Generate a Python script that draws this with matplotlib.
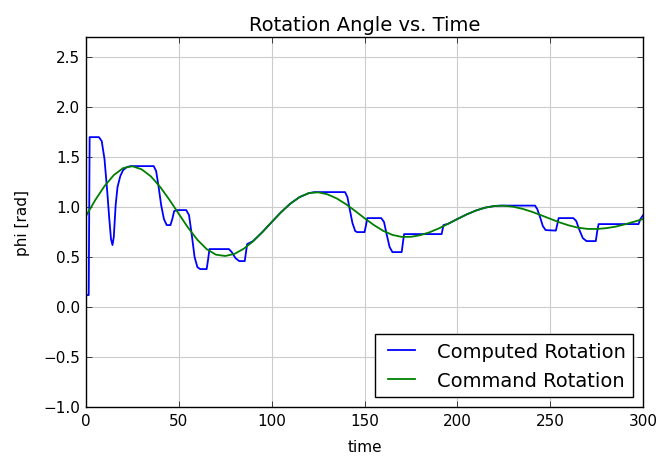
import matplotlib
matplotlib.use("Agg")
import matplotlib.pyplot as plt

# Command rotation (every 5 time units)
t_cmd = list(range(0, 301, 5))
phi_cmd = [0.91, 1.07, 1.21, 1.32, 1.39, 1.409, 1.378, 1.307, 1.201, 1.072,
           0.932, 0.794, 0.673, 0.580, 0.524, 0.511, 0.532, 0.584, 0.658, 0.750,
           0.850, 0.948, 1.034, 1.100, 1.140, 1.148, 1.128, 1.087, 1.029, 0.961,
           0.889, 0.821, 0.763, 0.722, 0.702, 0.703, 0.719, 0.748, 0.787, 0.833,
           0.881, 0.927, 0.966, 0.995, 1.011, 1.014, 1.004, 0.983, 0.954, 0.919,
           0.883, 0.847, 0.817, 0.794, 0.782, 0.781, 0.789, 0.804, 0.827, 0.853,
           0.881]

# Computed rotation (stepped response)
t_comp = [0, 1.5, 2.0, 7.0, 8.5, 10.0, 11.5, 12.5, 13.5, 14.3, 15.0, 16.0, 17.0,
          18.5, 20.0, 22.0, 24.0, 36.5, 37.8, 39.0, 40.5, 42.0, 43.5, 45.5, 46.5,
          47.5, 49.0, 54.0, 55.5, 57.0, 58.5, 60.0, 61.5, 65.0, 65.8, 66.5, 77.0,
          78.5, 80.5, 82.5, 85.5, 86.8, 90, 95, 100, 105, 110, 115, 120, 123,
          139.5, 140.8, 142.0, 143.5, 145.0, 146.0, 150.0, 150.8, 151.5, 159.0,
          160.5, 162.0, 163.5, 165.0, 170.0, 170.7, 171.3, 191.5, 192.5, 195,
          200, 205, 210, 215, 220, 223, 241.8, 243.0, 244.5, 246.0, 247.5, 253.0,
          253.8, 254.5, 262.4, 264.0, 265.5, 267.5, 269.5, 274.5, 275.2, 276.0,
          297.5, 298.5, 300]
phi_comp = [0.12, 0.12, 1.70, 1.70, 1.66, 1.48, 1.15, 0.90, 0.68, 0.62, 0.70, 1.02, 1.20,
            1.31, 1.37, 1.40, 1.41, 1.41, 1.36, 1.22, 1.02, 0.88, 0.82, 0.82, 0.88,
            0.96, 0.97, 0.97, 0.92, 0.72, 0.50, 0.40, 0.38, 0.38, 0.48, 0.58, 0.58,
            0.55, 0.49, 0.46, 0.46, 0.63, 0.66, 0.75, 0.85, 0.948, 1.034, 1.10, 1.14, 1.15,
            1.15, 1.10, 0.98, 0.84, 0.76, 0.75, 0.75, 0.82, 0.89, 0.89,
            0.85, 0.72, 0.60, 0.55, 0.55, 0.65, 0.73, 0.73, 0.82, 0.833,
            0.881, 0.927, 0.966, 0.995, 1.011, 1.015, 1.015, 0.98, 0.90, 0.81, 0.77, 0.765,
            0.83, 0.89, 0.89, 0.86, 0.78, 0.69, 0.66, 0.66, 0.75, 0.83,
            0.83, 0.88, 0.92]

plt.style.use('classic')
plt.rcParams['figure.facecolor'] = 'white'

fig = plt.figure(figsize=(6.61, 4.6), dpi=100)
ax = fig.add_axes([0.130, 0.113, 0.843, 0.804])

ax.plot(t_comp, phi_comp, color='b', linewidth=1.3, label='Computed Rotation')
ax.plot(t_cmd, phi_cmd, color='g', linewidth=1.3, label='Command Rotation')

ax.set_xlim(0, 300)
ax.set_ylim(-1.0, 2.7)
ax.set_yticks([-1.0, -0.5, 0.0, 0.5, 1.0, 1.5, 2.0, 2.5])
ax.grid(True, color='#cccccc', linestyle='-', linewidth=0.8)
ax.set_axisbelow(True)
ax.tick_params(labelsize=11)

ax.set_title('Rotation Angle vs. Time', fontsize=14)
ax.set_xlabel('time', fontsize=11, labelpad=8)
ax.set_ylabel('phi [rad]', fontsize=11, labelpad=10)
ax.legend(loc='lower right', fontsize=14)

fig.savefig('out.png', dpi=100, facecolor='white')
